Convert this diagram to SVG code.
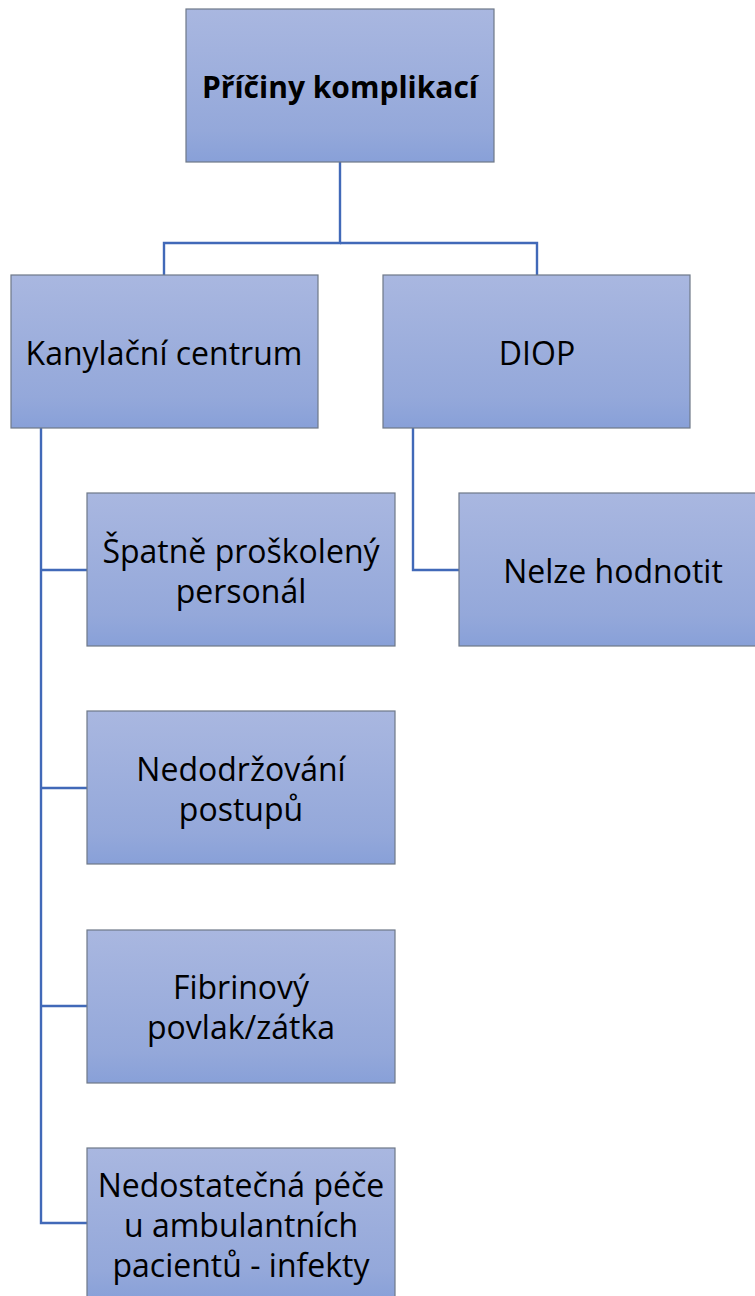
<svg xmlns="http://www.w3.org/2000/svg" width="755" height="1296" viewBox="0 0 755 1296">
<defs>
<linearGradient id="g" x1="0" y1="0" x2="0" y2="1">
<stop offset="0" stop-color="#A9B7E0"/>
<stop offset="0.8" stop-color="#94A8DA"/>
<stop offset="1" stop-color="#88A0D8"/>
</linearGradient>
</defs>
<style>
.box{fill:url(#g);stroke:#6E7888;stroke-width:1.2}
.t{font-family:"Open Sans","Noto Sans",sans-serif;font-size:32px;fill:#000;text-anchor:middle;dominant-baseline:central}
.b{font-weight:bold;font-size:30px}
.c{fill:none;stroke:#4169B8;stroke-width:2.4}
</style>
<rect width="755" height="1296" fill="#fff"/>
<g id="connectors">
<polyline class="c" points="340,162 340,243 164,243 164,275"/>
<polyline class="c" points="340,243 537,243 537,275"/>
<polyline class="c" points="41,428 41,1223 87,1223"/>
<line class="c" x1="41" y1="570" x2="87" y2="570"/>
<line class="c" x1="41" y1="788" x2="87" y2="788"/>
<line class="c" x1="41" y1="1006" x2="87" y2="1006"/>
<polyline class="c" points="413,428 413,570 459,570"/>
</g>
<g id="root"><rect class="box" x="186" y="9" width="308" height="153"/><text class="t b" x="340" y="86">Příčiny komplikací</text></g>
<g id="kanylacni"><rect class="box" x="11" y="275" width="307" height="153"/><text class="t" x="164" y="352">Kanylační centrum</text></g>
<g id="diop"><rect class="box" x="383" y="275" width="307" height="153"/><text class="t" x="537" y="352">DIOP</text></g>
<g id="spatne"><rect class="box" x="87" y="493" width="308" height="153"/><text class="t" x="241" y="550">Špatně proškolený</text><text class="t" x="241" y="590">personál</text></g>
<g id="nelze"><rect class="box" x="459" y="493" width="300" height="153"/><text class="t" x="613" y="570">Nelze hodnotit</text></g>
<g id="nedodrzovani"><rect class="box" x="87" y="711" width="308" height="153"/><text class="t" x="241" y="768">Nedodržování</text><text class="t" x="241" y="808">postupů</text></g>
<g id="fibrinovy"><rect class="box" x="87" y="930" width="308" height="153"/><text class="t" x="241" y="986">Fibrinový</text><text class="t" x="241" y="1026">povlak/zátka</text></g>
<g id="nedostatecna"><rect class="box" x="87" y="1148" width="308" height="153"/><text class="t" x="241" y="1184">Nedostatečná péče</text><text class="t" x="241" y="1224">u ambulantních</text><text class="t" x="241" y="1264">pacientů - infekty</text></g>
</svg>
